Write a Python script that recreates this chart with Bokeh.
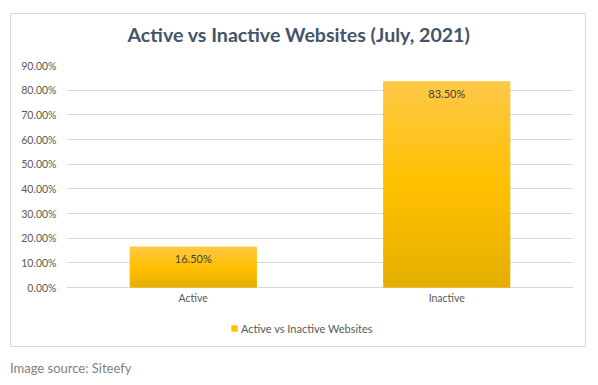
from bokeh.plotting import figure
from bokeh.models import (ColumnDataSource, FixedTicker, NumeralTickFormatter,
                          Legend, LegendItem, Div, Range1d)
from bokeh.layouts import column
from bokeh.core.properties import value
from bokeh.embed import file_html
from bokeh.resources import INLINE

categories = ["Active", "Inactive"]
shares = [0.165, 0.835]
labels = ["16.50%", "83.50%"]
y_ticks = [0.0, 0.1, 0.2, 0.3, 0.4, 0.5, 0.6, 0.7, 0.8, 0.9]
title_text = "Active vs Inactive Websites (July, 2021)"
series_name = "Active vs Inactive Websites"
source_text = "Image source: Siteefy"

FONT = "Lato"
W, H = 590, 360
# frame geometry (px): top 65, zero line 287, frame bottom 340
F_TOP, F_ZERO, F_BOT = 65, 287, 340
y_max = y_ticks[-1]
y_min = -(F_BOT - F_ZERO) / (F_ZERO - F_TOP) * y_max

border_css = """
:host::after {
  content: "";
  position: absolute;
  left: 10px; top: 13px;
  width: 576px; height: 334px;
  border: 1px solid #D9D9D9;
  pointer-events: none;
}
"""

p = figure(x_range=categories, y_range=Range1d(y_min, y_max), width=W, height=H,
           output_backend="svg", toolbar_location=None,
           min_border_left=66, min_border_right=17, min_border_top=F_TOP,
           min_border_bottom=H - F_BOT,
           stylesheets=[border_css])
p.outline_line_color = None
p.background_fill_color = "white"
p.border_fill_color = "white"

# title
p.title.text = title_text
p.title.align = "left"
p.title.offset = 61
p.title.standoff = 40
p.title.text_font = FONT
p.title.text_font_style = "bold"
p.title.text_font_size = "19.6px"
p.title.text_color = "#44546A"

# gradient bars built as stacked slices of each value
def lerp(c1, c2, t):
    return "#%02x%02x%02x" % tuple(int(round(a + (b - a) * t)) for a, b in zip(c1, c2))

top_c = (0xFF, 0xC8, 0x48)
mid_c = (0xFF, 0xC0, 0x00)
bot_c = (0xE5, 0xAE, 0x00)
N = 40
base = p.vbar(x=categories, top=shares, width=0.5, fill_color="#FFC000", line_color=None)
xs, bots, tops, cols = [], [], [], []
for cat, v in zip(categories, shares):
    for i in range(N):
        f0, f1 = i / N, min(1.0, (i + 1.6) / N)
        t = (i + 0.5) / N  # 0 bottom -> 1 top
        if t < 0.5:
            c = lerp(bot_c, mid_c, t / 0.5)
        else:
            c = lerp(mid_c, top_c, (t - 0.5) / 0.5)
        xs.append(cat); bots.append(v * f0); tops.append(v * f1); cols.append(c)

p.vbar(x=xs, bottom=bots, top=tops, width=0.5, fill_color=cols, line_color=None)

lbl_src = ColumnDataSource(dict(x=categories, y=shares, t=labels))
p.text(x="x", y="y", text="t", source=lbl_src, text_align="center", text_baseline="top",
       y_offset=5, text_font=value(FONT), text_font_size="11px", text_color="#404040")

# axes
p.xaxis.fixed_location = 0
p.xaxis.axis_line_color = None
p.xaxis.major_tick_line_color = None
p.xaxis.minor_tick_line_color = None
p.xaxis.major_tick_out = 0
p.xaxis.major_tick_in = 0
p.xaxis.major_label_text_font = FONT
p.xaxis.major_label_text_font_size = "10.5px"
p.xaxis.major_label_text_color = "#595959"
p.xaxis.major_label_standoff = 4
p.yaxis.axis_line_color = None
p.yaxis.major_tick_line_color = None
p.yaxis.minor_tick_line_color = None
p.yaxis.major_tick_out = 0
p.yaxis.major_tick_in = 0
p.yaxis.ticker = FixedTicker(ticks=y_ticks)
p.yaxis.formatter = NumeralTickFormatter(format="0.00%")
p.yaxis.major_label_text_font = FONT
p.yaxis.major_label_text_font_size = "10.5px"
p.yaxis.major_label_text_color = "#595959"
p.yaxis.major_label_standoff = 10
p.xgrid.grid_line_color = None
p.ygrid.ticker = FixedTicker(ticks=y_ticks)
p.ygrid.grid_line_color = "#D9D9D9"
p.ygrid.grid_line_width = 1

# legend inside the (extended) frame, under the axis labels
leg = Legend(items=[LegendItem(label=series_name, renderers=[base])],
             location=(164, 5), orientation="horizontal",
             label_text_font=FONT, label_text_font_size="11px", label_text_color="#595959",
             glyph_width=8, glyph_height=8, label_height=14, label_standoff=3,
             padding=0, margin=0, background_fill_alpha=0, border_line_color=None)
p.add_layout(leg, "center")

src = Div(text=source_text, margin=(2, 0, 0, 10),
          styles={"font-family": FONT, "font-size": "13px", "color": "#7F7F7F",
                  "line-height": "12px"})

layout = column(p, src)
open("out.html", "w").write(file_html(layout, INLINE))
